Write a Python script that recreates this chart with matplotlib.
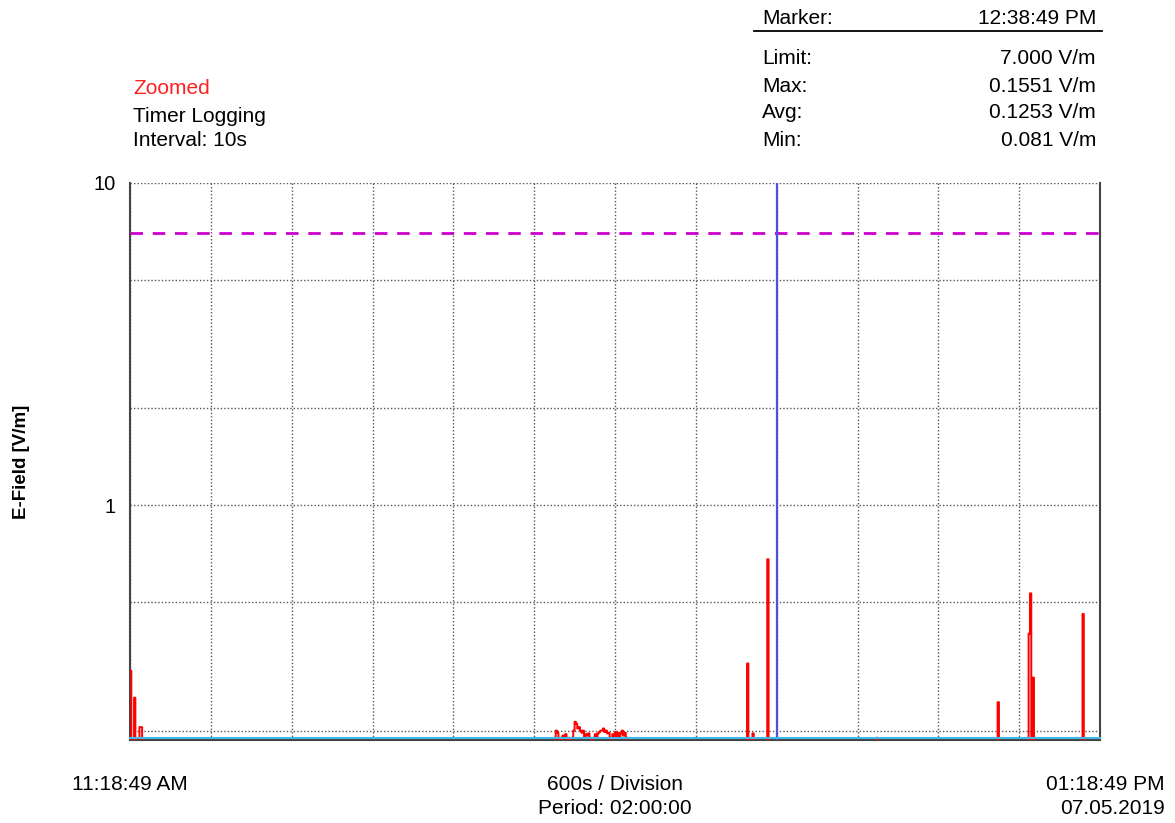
import numpy as np
import matplotlib.pyplot as plt
from matplotlib.ticker import NullFormatter, FixedLocator

plt.rcParams['font.family'] = ['Liberation Sans', 'DejaVu Sans']

# logging: 10 s interval over a 2 h period
interval_s = 10
period_s = 7200
division_s = 600
baseline = 0.12           # below the visible axis range

spike_idx = [0, 3, 7, 8, 458, 462, 473, 554, 644, 667, 668, 670, 707]
spike_val = [0.307, 0.253, 0.205, 0.205, 0.323, 0.196, 0.68, 0.19,
             0.245, 0.40, 0.533, 0.292, 0.46]

cluster_start = 315
cluster_val = [0.19, 0.2, 0.197, 0.185, 0.19, 0.18, 0.193, 0.19, 0.195, 0.185,
               0.19, 0.18, 0.18, 0.19, 0.2, 0.213, 0.21, 0.203, 0.205, 0.2,
               0.197, 0.2, 0.19, 0.195, 0.193, 0.196, 0.19, 0.185, 0.18, 0.19,
               0.195, 0.19, 0.196, 0.198, 0.2, 0.2, 0.203, 0.198, 0.2, 0.196,
               0.197, 0.19, 0.185, 0.195, 0.19, 0.198, 0.192, 0.197, 0.19, 0.196,
               0.2, 0.193, 0.197, 0.19, 0.185]

limit = 7.0
marker_t = 4800

y_major = [1, 10]
y_minor = [0.2, 0.5, 2, 5]

header_left = ["Timer Logging", "Interval: 10s"]
stats_labels = ["Limit:", "Max:", "Avg:", "Min:"]
stats_values = ["7.000 V/m", "0.1551 V/m", "0.1253 V/m", "0.081 V/m"]

t = np.arange(0, period_s + interval_s, interval_s)
field = np.full(len(t), baseline)
field[spike_idx] = spike_val
field[cluster_start:cluster_start + len(cluster_val)] = cluster_val

W, H = 1175, 823
fig = plt.figure(figsize=(W / 100, H / 100), dpi=100)
ax = fig.add_axes([130 / W, 1 - 740 / H, 970 / W, 557 / H])

ax.set_yscale('log')
ax.set_ylim(0.187, 10)
ax.set_xlim(0, period_s)

ax.plot(t, field, color='#ff0000', lw=1.4, drawstyle='steps-post', zorder=3)
ax.axhline(limit, color='#cc00cc', lw=2, ls=(0, (4.5, 3.5)), zorder=4)
ax.axvline(marker_t, color='#5050e0', lw=1.6, zorder=5)
ax.plot([0, 1], [0.004, 0.004], transform=ax.transAxes, color='#40b8e8',
        lw=1.5, zorder=6, clip_on=False)

ax.yaxis.set_major_locator(FixedLocator(y_major))
ax.yaxis.set_minor_locator(FixedLocator(y_minor))
ax.yaxis.set_major_formatter(plt.FixedFormatter(["1", "10"]))
ax.yaxis.set_minor_formatter(NullFormatter())
ax.set_xticks(np.arange(0, period_s + 1, division_s))
ax.set_xticklabels([])
ax.tick_params(axis='both', which='both', length=0, pad=10, labelsize=14.5)

grid_kw = dict(color='#555555', lw=1, ls=(0, (1, 1.5)))
ax.grid(True, which='both', axis='y', **grid_kw)
ax.grid(True, which='major', axis='x', **grid_kw)

for side in ['left', 'bottom', 'right']:
    ax.spines[side].set_color('#444444')
    ax.spines[side].set_linewidth(1.5)
ax.spines['top'].set_visible(False)

ax.set_ylabel("E-Field [V/m]", fontsize=13.5, fontweight='bold', labelpad=46)


def ftext(x, y, s, **kw):
    fig.text(x / W, 1 - (y + 2) / H, s, fontsize=15, va='center', **kw)


ftext(133, 87, "Zoomed", color='#ff2020')
ftext(133, 115, header_left[0])
ftext(133, 139, header_left[1])

ftext(762, 17, "Marker:")
ftext(1096, 17, "12:38:49 PM", ha='right')
fig.add_artist(plt.Line2D([754 / W, 1102 / W], [1 - 31 / H, 1 - 31 / H],
                          color='black', lw=1.3))
for i, (lab, val) in enumerate(zip(stats_labels, stats_values)):
    y = [57, 84, 111, 139][i]
    ftext(762, y, lab)
    ftext(1096, y, val, ha='right')

ftext(130, 783, "11:18:49 AM", ha='center')
ftext(615, 783, "600s / Division", ha='center')
ftext(615, 806, "Period: 02:00:00", ha='center')
ftext(1165, 783, "01:18:49 PM", ha='right')
ftext(1165, 806, "07.05.2019", ha='right')

fig.savefig("out.png", dpi=100)
